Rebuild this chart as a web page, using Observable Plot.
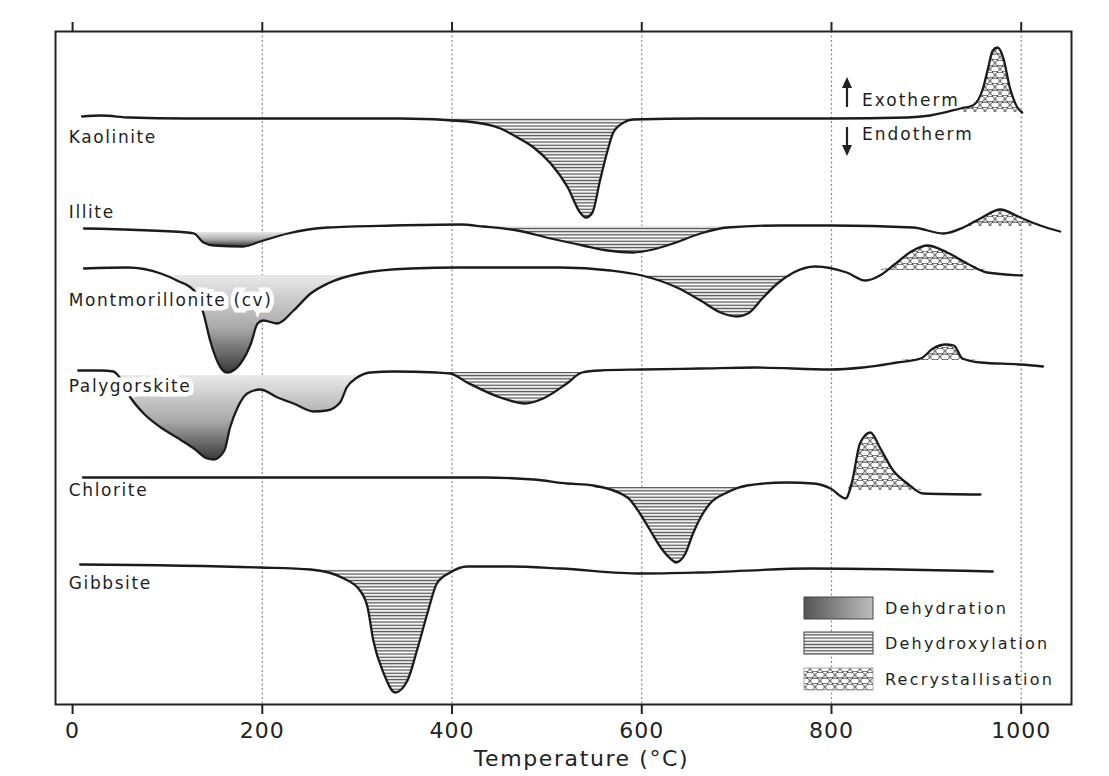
<!DOCTYPE html>
<html><head><meta charset="utf-8">
<script src="https://cdn.jsdelivr.net/npm/d3@7"></script>
<script src="https://cdn.jsdelivr.net/npm/@observablehq/plot@0.6"></script>
<style>
body{margin:0;background:#fff;}
#wrap{position:relative;width:1109px;height:776px;}
#overlay{position:absolute;left:0;top:0;pointer-events:none;}
</style></head><body><div id="wrap"></div>
<script>
// ---- Data (temperature °C, heat-flow signal relative to each trace's baseline; + = exotherm) ----
const minerals = ["Kaolinite", "Illite", "Montmorillonite (cv)", "Palygorskite", "Chlorite", "Gibbsite"];
const offsets = [586, 478, 436, 334, 227, 137]; // vertical stacking offset of each trace

const kaolinite = [[10,2],[30,3],[60,1],[120,0],[346,0],[416,-3],[451,-10],[469,-19],[486,-29],[504,-45],[522,-69],[535,-94],[541,-99],[548,-94],[556,-62],[564,-32],[570,-14],[581,-4],[591,-1],[662,0],[800,0],[880,1],[904,3],[936,10],[949,13],[960,31],[965,50],[970,68],[975,71],[981,61],[988,31],[996,11],[1001,6]];
const illite = [[12,-2],[121,-6],[128,-7],[138,-16],[149,-19],[180,-20],[198,-15],[227,-7],[269,-1],[338,1],[409,2],[433,0],[469,-4],[504,-12],[538,-19],[564,-24],[591,-26],[612,-23],[633,-17],[662,-7],[690,-1],[746,1],[800,1],[886,-1],[918,-7],[939,-1],[957,8],[978,17],[999,9],[1020,1],[1041,-5]];
const montmorillonite = [[12,0],[58,1],[93,-5],[110,-12],[128,-22],[138,-45],[145,-72],[156,-99],[163,-104],[177,-95],[188,-75],[195,-55],[201,-52],[216,-55],[233,-42],[251,-25],[269,-15],[303,-5],[356,0],[409,1],[514,1],[567,-2],[600,-7],[637,-19],[662,-32],[683,-44],[700,-48],[712,-45],[728,-29],[743,-15],[760,-4],[783,2],[816,-4],[836,-12],[851,-7],[865,3],[886,18],[901,23],[922,16],[943,5],[964,-4],[1001,-7]];
const palygorskite = [[6,0],[30,0],[43,-1],[48,-5],[61,-27],[75,-43],[93,-57],[110,-67],[128,-78],[142,-88],[149,-89],[160,-80],[166,-57],[174,-37],[184,-23],[198,-19],[216,-27],[233,-33],[254,-41],[268,-40],[282,-32],[289,-17],[300,-7],[314,-2],[338,-1],[384,-2],[398,-3],[416,-12],[451,-27],[477,-33],[496,-28],[521,-13],[537,-2],[556,0],[600,1],[662,2],[720,3],[799,1],[833,3],[869,8],[894,12],[907,22],[920,26],[929,25],[938,12],[957,8],[999,6],[1023,4]];
const chlorite = [[11,0],[100,0],[300,0],[433,0],[486,-2],[521,-6],[549,-8],[585,-20],[598,-36],[609,-53],[620,-70],[630,-81],[636,-85],[646,-76],[654,-56],[662,-40],[672,-26],[690,-15],[711,-8],[753,-5],[781,-6],[799,-11],[815,-21],[822,-3],[830,34],[841,45],[851,30],[865,7],[880,-6],[897,-16],[957,-17]];
const gibbsite = [[8,3],[198,0],[251,-2],[286,-11],[303,-23],[311,-40],[317,-73],[328,-106],[340,-125],[353,-113],[363,-83],[374,-46],[384,-16],[398,-5],[416,1],[461,1],[514,-1],[600,-6],[662,-5],[778,-1],[970,-4]];
const curves = [kaolinite, illite, montmorillonite, palygorskite, chlorite, gibbsite];

// thermal events: mineral, type, start T, end T, reference level (signal)
const events = [
  ["Kaolinite", "Dehydroxylation", 346, 662, 0],
  ["Kaolinite", "Recrystallisation", 936, 1001, 6],
  ["Illite", "Dehydration", 121, 227, -6],
  ["Illite", "Dehydroxylation", 433, 746, 0],
  ["Illite", "Recrystallisation", 939, 1020, 0],
  ["Montmorillonite (cv)", "Dehydration", 93, 303, -7],
  ["Montmorillonite (cv)", "Dehydroxylation", 600, 760, -7],
  ["Montmorillonite (cv)", "Recrystallisation", 851, 964, -2],
  ["Palygorskite", "Dehydration", 48, 314, -5],
  ["Palygorskite", "Dehydroxylation", 384, 537, -2],
  ["Palygorskite", "Recrystallisation", 869, 957, 10],
  ["Chlorite", "Dehydroxylation", 549, 711, -10],
  ["Chlorite", "Recrystallisation", 815, 897, -13],
  ["Gibbsite", "Dehydroxylation", 251, 416, -2]
];
const eventTypes = ["Dehydration", "Dehydroxylation", "Recrystallisation"];
const xTicks = [0, 200, 400, 600, 800, 1000];
const gridTicks = [200, 400, 600, 800, 1000];
const xLabel = "Temperature (°C)";
const annotations = ["Exotherm", "Endotherm"];
const boxedLabels = ["Montmorillonite (cv)", "Palygorskite"];

// ---- derived tables ----
const rows = minerals.flatMap((m, i) => curves[i].map(([T, s]) => ({mineral: m, T, v: offsets[i] + s})));
const areas = events.flatMap(([m, type, t0, t1, level], k) => {
  const i = minerals.indexOf(m);
  return curves[i].filter(([T]) => T >= t0 && T <= t1).map(([T, s]) => ({
    id: k, type, T, base: offsets[i] + level,
    v: offsets[i] + (type === "Recrystallisation" ? Math.max(s, level) : Math.min(s, level))
  }));
});
const labelPos = {"Kaolinite": [-4, -19], "Illite": [-4, 14], "Montmorillonite (cv)": [-4, -32], "Palygorskite": [-4, -16], "Chlorite": [-4, -13], "Gibbsite": [-4, -16]};
const labels = minerals.map((m, i) => ({name: m, T: labelPos[m][0], v: offsets[i] + labelPos[m][1], boxed: boxedLabels.includes(m)}));

const FONT = "DejaVu Sans, Verdana, sans-serif";
const svg = Plot.plot({
  width: 1109, height: 776,
  marginTop: 31, marginBottom: 72, marginLeft: 55, marginRight: 38,
  style: {fontFamily: FONT, color: "#222", background: "white"},
  x: {domain: [-18, 1053]},
  y: {domain: [0, 673], axis: null},
  marks: [
    Plot.ruleX(gridTicks, {stroke: "#8a8a8a", strokeDasharray: "2,2.5", strokeWidth: 1.2}),
    ...eventTypes.map(t => Plot.areaY(areas.filter(d => d.type === t), {
      x: "T", y1: "base", y2: "v", z: "id", fill: `url(#pat-${t})`, curve: "monotone-x"
    })),
    Plot.line(rows, {x: "T", y: "v", z: "mineral", stroke: "#1b1b1b", strokeWidth: 2.3, curve: "monotone-x"}),
    Plot.text(labels.filter(d => d.boxed), {x: "T", y: "v", text: "name", textAnchor: "start", fontSize: 17, fill: "#1e1e1e",
      stroke: "white", strokeWidth: 9, strokeLinejoin: "miter"}),
    Plot.text(labels.filter(d => !d.boxed), {x: "T", y: "v", text: "name", textAnchor: "start", fontSize: 17, fill: "#1e1e1e"}),
    Plot.frame({stroke: "#222", strokeWidth: 2}),
    Plot.axisX({anchor: "bottom", ticks: xTicks, tickSize: 10, tickPadding: 8, fontSize: 22, tickFormat: "d", label: null, strokeWidth: 2}),
    Plot.axisX({anchor: "top", ticks: xTicks, tickSize: 10, tickFormat: () => "", label: null, strokeWidth: 2}),
    Plot.text([xLabel], {frameAnchor: "bottom", lineAnchor: "middle", dy: 54, dx: 18, fontSize: 22, fill: "#222"})
  ]
});

// patterns & gradients
const defs = d3.select(svg).insert("defs", ":first-child");
const g1 = defs.append("linearGradient").attr("id", "pat-Dehydration").attr("x1", 0).attr("y1", 0).attr("x2", 0).attr("y2", 1);
g1.append("stop").attr("offset", "0%").attr("stop-color", "#e9e9e9");
g1.append("stop").attr("offset", "55%").attr("stop-color", "#a8a8a8");
g1.append("stop").attr("offset", "100%").attr("stop-color", "#3a3a3a");
const g2 = defs.append("linearGradient").attr("id", "legend-Dehydration").attr("x1", 0).attr("y1", 0).attr("x2", 1).attr("y2", 0);
g2.append("stop").attr("offset", "0%").attr("stop-color", "#555");
g2.append("stop").attr("offset", "100%").attr("stop-color", "#bdbdbd");
const p1 = defs.append("pattern").attr("id", "pat-Dehydroxylation").attr("patternUnits", "userSpaceOnUse").attr("width", 10).attr("height", 3.2);
p1.append("rect").attr("width", 10).attr("height", 3.2).attr("fill", "white");
p1.append("rect").attr("y", 0.6).attr("width", 10).attr("height", 1.3).attr("fill", "#4d4d4d");
const p2 = defs.append("pattern").attr("id", "pat-Recrystallisation").attr("patternUnits", "userSpaceOnUse").attr("width", 10).attr("height", 12);
p2.append("rect").attr("width", 10).attr("height", 12).attr("fill", "white");
for (const [cx, cy] of [[0, 3], [10, 3], [5, 9]]) {
  p2.append("ellipse").attr("cx", cx).attr("cy", cy).attr("rx", 4.3).attr("ry", 2.9).attr("fill", "white").attr("stroke", "#444").attr("stroke-width", 1);
}
d3.select(svg).selectAll('g[aria-label="text"] text').style("letter-spacing", "1.6px");
d3.select(svg).selectAll('g[aria-label="x-axis tick label"] text').style("letter-spacing", "1px");

document.getElementById("wrap").appendChild(svg);

// overlay: exotherm/endotherm annotation and legend
const ov = d3.select("#wrap").append("svg").attr("id", "overlay").attr("width", 1109).attr("height", 776)
  .style("font-family", FONT);
const ax = 847;
ov.append("line").attr("x1", ax).attr("x2", ax).attr("y1", 107).attr("y2", 85).attr("stroke", "#222").attr("stroke-width", 2.2);
ov.append("path").attr("d", `M${ax},77L${ax-5},88L${ax+5},88Z`).attr("fill", "#222");
ov.append("line").attr("x1", ax).attr("x2", ax).attr("y1", 127).attr("y2", 148).attr("stroke", "#222").attr("stroke-width", 2.2);
ov.append("path").attr("d", `M${ax},156L${ax-5},145L${ax+5},145Z`).attr("fill", "#222");
ov.selectAll("text.ann").data(annotations).join("text").attr("class", "ann")
  .attr("x", 862).attr("y", (d, i) => i ? 134 : 100).attr("dy", "0.36em")
  .attr("font-size", 17).attr("fill", "#1e1e1e").style("letter-spacing", "2px").text(d => d);

const legFill = ["url(#legend-Dehydration)", "url(#pat-Dehydroxylation)", "url(#pat-Recrystallisation)"];
const legY = [597, 632, 668];
eventTypes.forEach((t, i) => {
  ov.append("rect").attr("x", 804).attr("y", legY[i]).attr("width", 69).attr("height", 22)
    .attr("fill", legFill[i]).attr("stroke", i === 2 ? "#aaa" : "#444").attr("stroke-width", 1);
  ov.append("text").attr("x", 885).attr("y", legY[i] + 11).attr("dy", "0.36em").attr("font-size", 16)
    .attr("fill", "#1e1e1e").style("letter-spacing", "2.2px").text(t);
});
</script></body></html>
